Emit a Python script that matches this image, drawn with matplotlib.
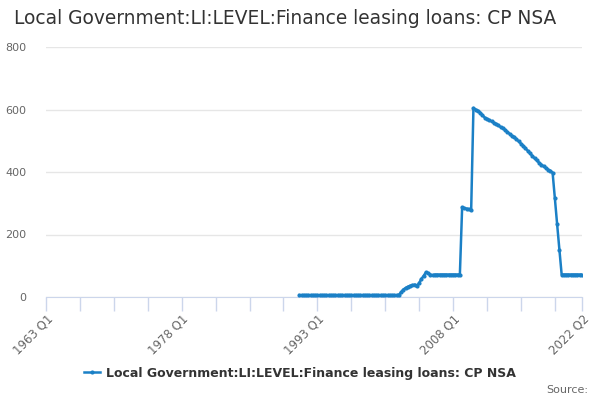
import matplotlib
matplotlib.use("Agg")
import matplotlib.pyplot as plt
import numpy as np

title = "Local Government:LI:LEVEL:Finance leasing loans: CP NSA"
series_name = "Local Government:LI:LEVEL:Finance leasing loans: CP NSA"

first_year, first_q = 1963, 1
last_year, last_q = 2022, 2
quarters = [f"{y} Q{q}" for y in range(first_year, last_year + 1) for q in range(1, 5)]
quarters = quarters[: quarters.index(f"{last_year} Q{last_q}") + 1]

data_start = "1991 Q1"
values = [
    6, 6, 6, 6, 6, 6, 6, 6, 6, 6, 6, 6, 6, 6, 6, 6, 6, 6, 6, 6, 6, 6,
    6, 6, 6, 6, 6, 6, 6, 6, 6, 6, 6, 6, 6, 6, 6, 6, 6, 6, 6, 6, 6, 6,
    7, 15, 24, 29, 33, 36, 38, 40, 35, 45, 58, 68, 79, 76, 72, 70,
    72, 72, 72, 72, 72, 72, 72, 72, 72, 72, 72, 72,
    287, 284, 283, 281, 280,
    605, 600, 596, 590, 582, 574, 570, 566, 562, 558, 554, 549, 544, 540,
    535, 528, 522, 516, 512, 505, 498, 491, 484, 476, 468, 460, 452, 444,
    437, 430, 424, 418, 413, 408, 404, 398,
    316, 233, 152,
    72, 72, 72, 72, 72, 72, 72, 72, 72, 72,
]

tick_labels = ["1963 Q1", "1978 Q1", "1993 Q1", "2008 Q1", "2022 Q2"]
y_ticks = [0, 200, 400, 600, 800]

start = quarters.index(data_start)
x = np.arange(start, start + len(values))

fig = plt.figure(figsize=(6, 4), dpi=100)
ax = fig.add_axes([46 / 600, 1 - 297 / 400, 536 / 600, 250 / 400])

color = "#1b80c6"
ax.plot(x, values, color=color, lw=1.8, marker="o", ms=2.0, label=series_name, zorder=3)

ax.set_xlim(0, len(quarters) - 1)
ax.set_ylim(0, 800)
ax.set_yticks(y_ticks)
ax.set_yticklabels([str(v) for v in y_ticks])
ax.grid(axis="y", color="#e6e6e6", lw=1)
ax.set_axisbelow(True)

minor = list(range(0, len(quarters), 15)) + [len(quarters) - 1]
ax.set_xticks(minor)
ax.set_xticklabels(["" for _ in minor])
major_pos = [quarters.index(t) for t in tick_labels]
for p, lab in zip(major_pos, tick_labels):
    ax.text(p, -0.06, lab, transform=ax.get_xaxis_transform(), rotation=45,
            ha="right", va="top", fontsize=8.5, color="#666666", rotation_mode="anchor")

ax.tick_params(axis="x", length=10, color="#ccd6eb", width=1)
ax.tick_params(axis="y", length=0, labelsize=8, labelcolor="#666666", pad=14)
for s in ["top", "right", "left"]:
    ax.spines[s].set_visible(False)
ax.spines["bottom"].set_color("#ccd6eb")

fig.text(14 / 600, 1 - 18 / 400, title, fontsize=13.4, color="#333333", va="center", ha="left")

leg = fig.legend(loc="center", bbox_to_anchor=(0.5, 1 - 373 / 400), frameon=False,
                 prop={"size": 9, "weight": "bold"}, handlelength=1.3, handletextpad=0.5)
for t in leg.get_texts():
    t.set_color("#333333")

fig.text(588 / 600, 1 - 390 / 400, "Source:", fontsize=8, color="#666666", ha="right", va="center")

fig.savefig("out.png", dpi=100)
